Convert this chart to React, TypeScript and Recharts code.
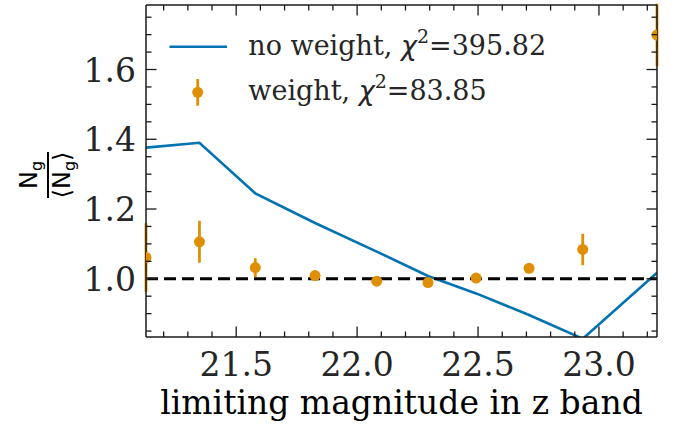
import React from "react";
import {
  ComposedChart,
  Line,
  Scatter,
  ErrorBar,
  XAxis,
  YAxis,
  ReferenceLine,
  Legend,
  Label,
} from "recharts";

// limiting magnitude (x) and the two normalised galaxy-count curves
const magnitudes = [21.127, 21.348, 21.579, 21.826, 22.081, 22.293, 22.492, 22.711, 22.933, 23.24];
const noWeightRatio = [1.376, 1.39, 1.245, 1.16, 1.078, 1.008, 0.958, 0.896, 0.828, 1.017];
const weightRatio = [1.061, 1.106, 1.032, 1.009, 0.993, 0.989, 1.002, 1.03, 1.084, 1.699];
const weightErr = [0.098, 0.06, 0.027, 0.006, 0.004, 0.004, 0.004, 0.005, 0.045, 0.09];

const xTicks = [
  21.2, 21.3, 21.4, 21.5, 21.6, 21.7, 21.8, 21.9, 22.0, 22.1, 22.2, 22.3, 22.4, 22.5, 22.6,
  22.7, 22.8, 22.9, 23.0, 23.1, 23.2,
];
const xMajor = [21.5, 22.0, 22.5, 23.0];
const yTicks = [
  0.85, 0.9, 0.95, 1.0, 1.05, 1.1, 1.15, 1.2, 1.25, 1.3, 1.35, 1.4, 1.45, 1.5, 1.55, 1.6,
  1.65, 1.7, 1.75,
];
const yMajor = [1.0, 1.2, 1.4, 1.6];

const xDomain = [21.127, 23.24];
const yDomain = [0.833, 1.785];

const lineLabel = "no weight, ";
const lineChi = "395.82";
const pointLabel = "weight, ";
const pointChi = "83.85";
const xLabel = "limiting magnitude in z band";

const BLUE = "#0173b2";
const ORANGE = "#de8f05";
const INK = "#1a1a1a";
const TEXT = "#262626";
const SERIF = "'DejaVu Serif', serif";
const SANS = "'DejaVu Sans', sans-serif";

// plot box (chart margins + axis sizes)
const W = 683;
const H = 426;
const M = { top: 5, right: 26, bottom: 0, left: 0 };
const Y_AXIS_W = 146;
const X_AXIS_H = 89;
const PLOT_W = W - M.left - M.right - Y_AXIS_W;
const PLOT_H = H - M.top - M.bottom - X_AXIS_H;

const data = magnitudes.map((x, i) => ({
  x,
  noWeight: noWeightRatio[i],
  weight: weightRatio[i],
  err: weightErr[i],
}));

const isMajor = (list: number[], v: number) => list.some((m) => Math.abs(m - v) < 1e-6);

// bottom ticks point inward; the same tick is mirrored on the top edge
const BottomTick = (props: any) => {
  const { x, y, payload } = props;
  const len = isMajor(xMajor, payload.value) ? 10.5 : 5.5;
  const top = y - PLOT_H;
  return (
    <g>
      <line x1={x} x2={x} y1={y} y2={y - len} stroke={INK} strokeWidth={1.3} />
      <line x1={x} x2={x} y1={top} y2={top + len} stroke={INK} strokeWidth={1.3} />
      {isMajor(xMajor, payload.value) && (
        <text x={x} y={y + 39} textAnchor="middle" fontSize={33} fill={TEXT} fontFamily={SERIF}>
          {payload.value.toFixed(1)}
        </text>
      )}
    </g>
  );
};

const LeftTick = (props: any) => {
  const { x, y, payload } = props;
  const len = isMajor(yMajor, payload.value) ? 10.5 : 5.5;
  const right = x + PLOT_W;
  return (
    <g>
      <line x1={x} x2={x + len} y1={y} y2={y} stroke={INK} strokeWidth={1.3} />
      <line x1={right} x2={right - len} y1={y} y2={y} stroke={INK} strokeWidth={1.3} />
      {isMajor(yMajor, payload.value) && (
        <text x={x - 10} y={y + 12} textAnchor="end" fontSize={33} fill={TEXT} fontFamily={SERIF}>
          {payload.value.toFixed(1)}
        </text>
      )}
    </g>
  );
};

const FractionLabel = (props: any) => {
  const vb = props.viewBox || { x: 0, y: M.top, width: Y_AXIS_W, height: PLOT_H };
  const cx = vb.x + 48;
  const cy = vb.y + vb.height / 2 + 4;
  return (
    <g transform={`rotate(-90, ${cx}, ${cy})`} fontFamily={SANS} fill="#000">
      <text x={cx} y={cy - 11} textAnchor="middle" fontSize={24}>
        N<tspan fontSize={16} dy={5}>g</tspan>
      </text>
      <line x1={cx - 23} x2={cx + 23} y1={cy} y2={cy} stroke="#000" strokeWidth={2} />
      <text x={cx} y={cy + 22} textAnchor="middle" fontSize={24}>
        ⟨N<tspan fontSize={16} dy={5}>g</tspan>
        <tspan dy={-5}>⟩</tspan>
      </text>
    </g>
  );
};

const Dot = (p: any) => {
  const id = `pt-clip-${p.index ?? Math.round(p.cx)}`;
  return (
    <g>
      <defs>
        <clipPath id={id}>
          <rect x={M.left + Y_AXIS_W} y={M.top} width={PLOT_W} height={PLOT_H} />
        </clipPath>
      </defs>
      <circle cx={p.cx} cy={p.cy} r={5.5} fill={ORANGE} clipPath={`url(#${id})`} />
    </g>
  );
};

const LegendBox = () => (
  <svg width={420} height={100} style={{ overflow: "visible" }}>
    <line x1={9.5} x2={67} y1={26.7} y2={26.7} stroke={BLUE} strokeWidth={2.6} />
    <line x1={37.7} x2={37.7} y1={59} y2={85.7} stroke={ORANGE} strokeWidth={2.8} />
    <circle cx={37.7} cy={72.3} r={5.5} fill={ORANGE} />
    <text x={88.3} y={35} fontSize={27} fill={TEXT} fontFamily={SERIF}>
      {lineLabel}
      <tspan fontFamily={SANS} fontStyle="italic">χ</tspan>
      <tspan fontSize={19} dy={-12}>2</tspan>
      <tspan dy={12}>={lineChi}</tspan>
    </text>
    <text x={88.3} y={80} fontSize={27} fill={TEXT} fontFamily={SERIF}>
      {pointLabel}
      <tspan fontFamily={SANS} fontStyle="italic">χ</tspan>
      <tspan fontSize={19} dy={-12}>2</tspan>
      <tspan dy={12}>={pointChi}</tspan>
    </text>
  </svg>
);

export default function App() {
  return (
    <div style={{ position: "absolute", left: 0, top: 0, width: W, height: H, background: "#fff" }}>
      <ComposedChart width={W} height={H} data={data} margin={M}>
        <XAxis
          dataKey="x"
          type="number"
          domain={xDomain}
          allowDataOverflow
          ticks={xTicks}
          interval={0}
          height={X_AXIS_H}
          tickSize={0}
          tickMargin={0}
          tickLine={false}
          axisLine={{ stroke: INK, strokeWidth: 1.5 }}
          tick={BottomTick}
        >
          <Label
            value={xLabel}
            position="insideBottom"
            offset={12}
            style={{ fontSize: 33, fontFamily: SERIF, fill: "#000" }}
          />
        </XAxis>
        <YAxis
          type="number"
          domain={yDomain}
          allowDataOverflow
          ticks={yTicks}
          interval={0}
          width={Y_AXIS_W}
          tickSize={0}
          tickMargin={0}
          tickLine={false}
          axisLine={{ stroke: INK, strokeWidth: 1.5 }}
          tick={LeftTick}
        >
          <Label content={FractionLabel} />
        </YAxis>
        <Line
          dataKey="noWeight"
          stroke={BLUE}
          strokeWidth={2.6}
          dot={false}
          isAnimationActive={false}
        />
        <ReferenceLine y={1} stroke="#000" strokeWidth={2.8} strokeDasharray="12 6" />
        <Scatter dataKey="weight" fill={ORANGE} isAnimationActive={false} shape={Dot}>
          <ErrorBar dataKey="err" direction="y" width={0} stroke={ORANGE} strokeWidth={2.8} isAnimationActive={false} />
        </Scatter>
        {/* top and right edges of the frame */}
        <ReferenceLine y={yDomain[1]} stroke={INK} strokeWidth={1.5} />
        <ReferenceLine x={xDomain[1]} stroke={INK} strokeWidth={1.5} />
        <Legend
          layout="vertical"
          align="center"
          verticalAlign="middle"
          wrapperStyle={{ left: 160, top: 20, width: 420, height: 100 }}
          content={() => <LegendBox />}
        />
      </ComposedChart>
    </div>
  );
}
